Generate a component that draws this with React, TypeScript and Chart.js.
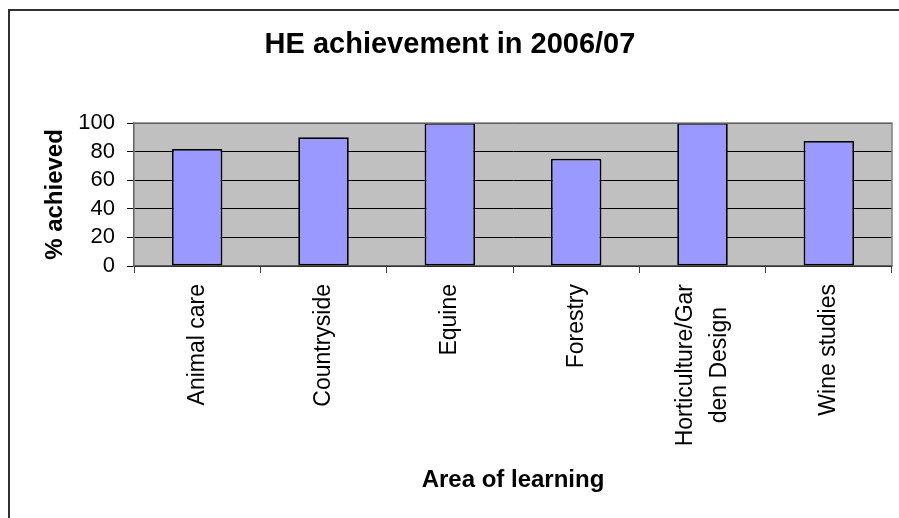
import React, { useEffect, useRef } from "react";
import { Chart, registerables } from "chart.js";

Chart.register(...registerables);

const categories: (string | string[])[] = [
  "Animal care",
  "Countryside",
  "Equine",
  "Forestry",
  ["Horticulture/Gar", "den Design"],
  "Wine studies",
];
const achieved: number[] = [81.8, 90, 100, 75, 100, 87.5];
const yMin = 0;
const yMax = 100;
const yStep = 20;

const chartTitle = "HE achievement in 2006/07";
const xTitle = "Area of learning";
const yTitle = "% achieved";

const FONT = "'Liberation Sans', Arial, sans-serif";

const framePlugin = {
  id: "frame",
  beforeDraw(chart: any) {
    const { ctx, chartArea } = chart;
    ctx.save();
    ctx.fillStyle = "#ffffff";
    ctx.fillRect(0, 0, chart.width, chart.height);
    ctx.strokeStyle = "#303030";
    ctx.lineWidth = 2;
    ctx.strokeRect(9, 10, chart.width + 20, chart.height + 20);
    ctx.fillStyle = "#c0c0c0";
    ctx.fillRect(chartArea.left, chartArea.top, chartArea.right - chartArea.left, chartArea.bottom - chartArea.top);
    ctx.restore();

    // centre multi-line category labels (Excel style) around their tick
    const xs = chart.scales.x;
    const items = xs.getLabelItems(chartArea);
    ctx.save();
    items.forEach((item: any) => {
      if (!Array.isArray(item.label) || item._centred) return;
      const n = item.label.length;
      const lh = Number(item.font.lineHeight);
      ctx.font = item.font.string;
      const maxW = Math.max(...item.label.map((l: string) => ctx.measureText(l).width));
      item.textOffset -= ((n - 1) * lh) / 2;
      item.options.textAlign = "center";
      item.options.translation = [item.options.translation[0], item.options.translation[1] + maxW / 2];
      item._centred = true;
    });
    ctx.restore();
  },
  afterDatasetsDraw(chart: any) {
    const { ctx, chartArea } = chart;
    ctx.save();
    ctx.strokeStyle = "#808080";
    ctx.lineWidth = 1.5;
    ctx.beginPath();
    ctx.moveTo(chartArea.left, chartArea.top);
    ctx.lineTo(chartArea.right, chartArea.top);
    ctx.lineTo(chartArea.right, chartArea.bottom);
    ctx.stroke();
    ctx.restore();
  },
};

export default function App() {
  const ref = useRef<HTMLCanvasElement>(null);
  useEffect(() => {
    if (!ref.current) return;
    const chart = new Chart(ref.current, {
      type: "bar",
      data: {
        labels: categories,
        datasets: [
          {
            data: achieved,
            backgroundColor: "#9999ff",
            borderColor: "#000000",
            borderWidth: 1.8,
            borderSkipped: false,
            barPercentage: 0.4,
            categoryPercentage: 1,
          },
        ],
      },
      options: {
        responsive: false,
        animation: false,
        layout: { padding: { left: 8, right: 7, top: 0, bottom: 0 } },
        plugins: {
          legend: { display: false },
          tooltip: { enabled: false },
          title: {
            display: true,
            text: chartTitle,
            color: "#000",
            font: { family: FONT, size: 29, weight: "bold", lineHeight: 1.2 },
            padding: { top: 27.6, bottom: 60.6 },
          },
        },
        scales: {
          x: {
            offset: true,
            grid: {
              display: true,
              offset: true,
              drawOnChartArea: false,
              drawTicks: true,
              tickLength: 7,
              tickColor: "#404040",
              color: "#404040",
            },
            border: { display: true, color: "#606060", width: 1.5 },
            ticks: {
              color: "#000",
              font: { family: FONT, size: 23, lineHeight: 1.45 },
              minRotation: 90,
              maxRotation: 90,
              padding: 11,
              autoSkip: false,
            },
            title: {
              display: true,
              text: xTitle,
              color: "#000",
              font: { family: FONT, size: 24, weight: "bold", lineHeight: 1.2 },
              padding: { top: 0, bottom: 23 },
            },
            afterFit: (scale: any) => {
              scale.height = 252;
            },
          },
          y: {
            min: yMin,
            max: yMax,
            grid: {
              color: "#000000",
              lineWidth: 1,
              tickLength: 7,
              tickColor: "#000000",
            },
            border: { display: true, color: "#606060", width: 1.5 },
            ticks: {
              stepSize: yStep,
              autoSkip: false,
              color: "#000",
              font: { family: FONT, size: 22 },
              padding: 12,
            },
            title: {
              display: true,
              text: yTitle,
              color: "#000",
              font: { family: FONT, size: 24, weight: "bold", lineHeight: 1.2 },
              padding: { top: 32.6, bottom: 0 },
            },
            afterFit: (scale: any) => {
              scale.width = 126;
            },
          },
        },
      },
      plugins: [framePlugin],
    });
    return () => chart.destroy();
  }, []);
  return (
    <canvas
      ref={ref}
      width={899}
      height={518}
      style={{ position: "fixed", left: 0, top: 0, width: 899, height: 518 }}
    />
  );
}
